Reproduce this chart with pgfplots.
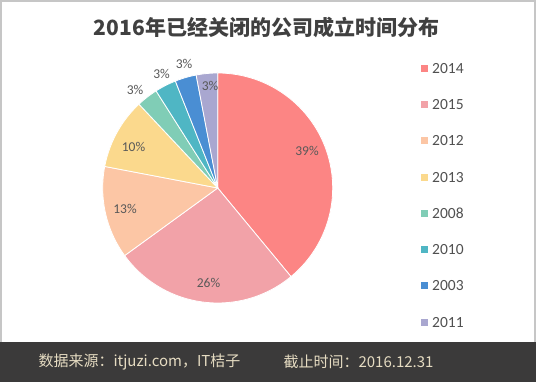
\documentclass[border=0pt]{standalone}
\usepackage{pgfplots}
\pgfplotsset{compat=1.18}
\usepackage{fontspec}
\setmainfont{Carlito}
\newfontfamily\cjk{Noto Sans CJK SC}
\definecolor{c2014}{HTML}{FC8584}
\definecolor{c2015}{HTML}{F2A2A8}
\definecolor{c2012}{HTML}{FCC6A5}
\definecolor{c2013}{HTML}{FBD98D}
\definecolor{c2008}{HTML}{80CDB6}
\definecolor{c2010}{HTML}{4FB6C4}
\definecolor{c2003}{HTML}{4A8ED3}
\definecolor{c2011}{HTML}{A9A7D0}
\definecolor{footbg}{HTML}{3B3A3A}
\definecolor{foottx}{HTML}{E6DCC2}
\definecolor{labtx}{HTML}{595959}
% slice: #1 cumulative percent before, #2 percent, #3 colour
\newcommand\slice[3]{%
  \addplot[fill=#3, draw=white, line width=0.8pt, domain={90-3.6*(#1+#2)}:{90-3.6*(#1)}, samples=60, variable=\t]
    ({217.7+115*cos(\t)}, {194+115*sin(\t)}) -- (axis cs:217.7,194) -- cycle;}
\begin{document}
\begin{tikzpicture}
\fill[white] (0,0) rectangle (536pt,382pt);
\draw[gray!45, line width=2pt] (1pt,1pt) rectangle (535pt,381pt);
\fill[footbg] (0,0) rectangle (536pt,40pt);
\begin{axis}[x=1pt, y=1pt, xmin=0, xmax=536, ymin=0, ymax=382,
  scale only axis, hide axis, clip=false,
  legend image code/.code={\fill[#1, draw=none] (0pt,-3.5pt) rectangle (7pt,3.5pt);},
  legend style={at={(axis cs:421,320)}, anchor=north west, draw=none, fill=none,
    inner sep=0pt, row sep=24.3pt, font=\fontsize{15.5}{15.5}\selectfont\color{labtx!90!black},
    nodes={inner sep=1pt, text height=10pt, text depth=0pt},
    /tikz/every odd column/.append style={column sep=3pt}},
  legend cell align=left]
\slice{0}{39}{c2014}\addlegendentry{2014}
\slice{39}{26}{c2015}\addlegendentry{2015}
\slice{65}{13}{c2012}\addlegendentry{2012}
\slice{78}{10}{c2013}\addlegendentry{2013}
\slice{88}{3}{c2008}\addlegendentry{2008}
\slice{91}{3}{c2010}\addlegendentry{2010}
\slice{94}{3}{c2003}\addlegendentry{2003}
\slice{97}{3}{c2011}\addlegendentry{2011}
\begin{scope}[every node/.style={font=\fontsize{13.5}{13.5}\selectfont, text=labtx}]
\node at (axis cs:307,231) {39\%};
\node at (axis cs:208.5,99) {26\%};
\node at (axis cs:125,173) {13\%};
\node at (axis cs:133.5,235) {10\%};
\node at (axis cs:135,292) {3\%};
\node at (axis cs:161.5,308) {3\%};
\node at (axis cs:184,318) {3\%};
\node at (axis cs:210,296) {3\%};
\end{scope}
\node[font=\cjk\bfseries\fontsize{21}{21}\selectfont, text=black!75] at (axis cs:266.5,354) {2016年已经关闭的公司成立时间分布};
\node[font=\cjk\fontsize{15}{15}\selectfont, text=foottx, anchor=west] at (axis cs:35,20) {数据来源：itjuzi.com，IT桔子};
\node[font=\cjk\fontsize{15}{15}\selectfont, text=foottx, anchor=west] at (axis cs:280,20) {截止时间：2016.12.31};
\end{axis}
\end{tikzpicture}
\end{document}
